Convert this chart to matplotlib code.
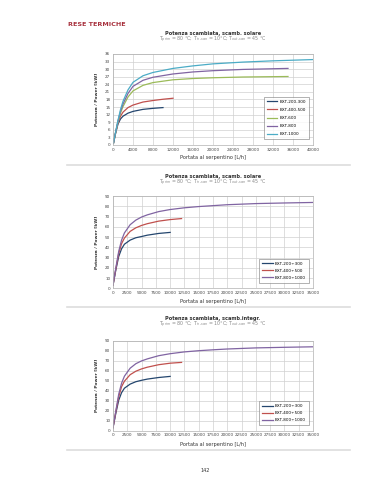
import matplotlib
matplotlib.use("Agg")
import matplotlib.pyplot as plt
from matplotlib.lines import Line2D

# -----------------------------
# data read from the catalogue page
# -----------------------------
# panel 1 - scamb. solare, 5 models
p1_labels = ["BXT-200-300", "BXT-400-500", "BXT-600", "BXT-800", "BXT-1000"]
p1_flow = [
    [100, 500, 1000, 1500, 2000, 3000, 4000, 6000, 8000, 10000],
    [100, 500, 1000, 1500, 2000, 3000, 4000, 6000, 8000, 10000, 12000],
    [100, 500, 1000, 1500, 2000, 3000, 4000, 6000, 8000, 12000, 16000, 20000, 26000, 35000],
    [100, 500, 1000, 1500, 2000, 3000, 4000, 6000, 8000, 12000, 16000, 20000, 26000, 35000],
    [100, 500, 1000, 1500, 2000, 3000, 4000, 6000, 8000, 12000, 16000, 20000, 26000, 32000, 40000],
]
p1_power = [
    [0.8, 4.5, 8.3, 10.3, 11.4, 12.6, 13.3, 14.1, 14.5, 14.8],
    [0.8, 4.6, 8.8, 11.4, 13.0, 14.8, 15.8, 17.0, 17.6, 18.1, 18.5],
    [0.8, 4.7, 9.2, 12.6, 15.2, 19.0, 21.4, 23.6, 24.7, 25.8, 26.3, 26.6, 26.9, 27.1],
    [0.8, 4.8, 9.5, 13.3, 16.2, 20.4, 23.2, 25.6, 26.8, 28.1, 28.9, 29.4, 29.9, 30.3],
    [0.8, 4.9, 9.8, 14.0, 17.3, 21.8, 24.8, 27.4, 28.7, 30.3, 31.3, 32.1, 32.8, 33.3, 33.8],
]

# panels 2 and 3 - 3 models
p23_labels = ["BXT-200÷300", "BXT-400÷500", "BXT-800÷1000"]
p2_flow = [
    [0, 500, 1000, 1500, 2000, 3000, 4000, 5000, 6000, 8000, 10000],
    [0, 500, 1000, 1500, 2000, 3000, 4000, 5000, 6000, 8000, 10000, 12000],
    [0, 500, 1000, 1500, 2000, 3000, 4000, 5000, 6000, 8000, 10000, 12500, 15000,
     17500, 20000, 25000, 30000, 35000],
]
p2_power = [
    [3, 18, 31, 38.5, 43, 47, 49.3, 50.5, 51.8, 53.5, 54.5],
    [3, 19, 34, 43.5, 49, 55.5, 59, 61.3, 63, 65.5, 67, 68],
    [3, 20, 36, 47, 54, 62, 66.5, 69.5, 71.6, 74.8, 76.8, 78.5, 79.7, 80.6, 81.5, 82.6, 83.2, 83.7],
]
p3_flow = p2_flow
p3_power = [
    [3, 17.5, 30.5, 38, 42.5, 46.6, 49, 50.4, 51.6, 53.2, 54.3],
    [3, 19, 34, 44, 49.5, 56, 59.5, 61.8, 63.5, 66, 67.5, 68.3],
    [3, 20, 36.5, 47.5, 54.5, 62.5, 67, 69.8, 71.8, 75, 77, 78.8, 80, 80.9, 81.7, 82.8, 83.4, 83.9],
]

colors5 = ["#24466e", "#c0504d", "#9bbb59", "#8064a2", "#4bacc6"]
colors3 = ["#24466e", "#c0504d", "#8064a2"]

W, H = 374, 480
fig = plt.figure(figsize=(W / 100, H / 100), dpi=100)


def box(x0, y0, x1, y1):
    return [x0 / W, 1 - y1 / H, (x1 - x0) / W, (y1 - y0) / H]


def panel(rect, flows, powers, labels, colors, xmax, xstep, ymax, ystep,
          title, title_y, xlabel_y, spacing):
    ax = fig.add_axes(rect)
    for fl, pw, lab, c in zip(flows, powers, labels, colors):
        ax.plot(fl, pw, color=c, lw=0.9, label=lab)
    ax.set_xlim(0, xmax)
    ax.set_ylim(0, ymax)
    ax.set_xticks(range(0, xmax + 1, xstep))
    ax.set_yticks(range(0, ymax + 1, ystep))
    ax.grid(True, color="#d0d0d0", lw=0.5)
    ax.set_axisbelow(True)
    ax.tick_params(labelsize=3, length=0, pad=2, colors="#444444")
    for s in ax.spines.values():
        s.set_color("#b0b0b0")
        s.set_linewidth(0.5)
    ax.set_ylabel("Potenza / Power [kW]", fontsize=3.2, fontweight="bold",
                  color="#333333", labelpad=4)
    fig.text(213 / W, 1 - xlabel_y / H, "Portata al serpentino [L/h]",
             fontsize=3.6, ha="center", va="center", color="#333333")
    fig.text(213 / W, 1 - title_y / H, title, fontsize=3.6, ha="center",
             va="center", color="#333333", fontweight="bold")
    fig.text(213 / W, 1 - (title_y + 6.5) / H,
             "T$_{prim}$ = 80 °C; T$_{in,san}$ = 10°C; T$_{out,san}$ = 45 °C",
             fontsize=3.4, ha="center", va="center", color="#888888")
    leg = ax.legend(loc="lower right", bbox_to_anchor=(0.99, 0.04), fontsize=3,
                    frameon=True, fancybox=False, handlelength=2.6,
                    borderpad=0.7, labelspacing=spacing, handletextpad=0.5)
    leg.get_frame().set_edgecolor("#777777")
    leg.get_frame().set_linewidth(0.5)
    return ax


panel(box(113, 54, 313, 145), p1_flow, p1_power, p1_labels, colors5,
      40000, 4000, 36, 3, "Potenza scambiata, scamb. solare", 33, 158, 1.0)
panel(box(113, 196, 313, 288.3), p2_flow, p2_power, p23_labels, colors3,
      35000, 2500, 90, 10, "Potenza scambiata, scamb. solare", 176.5, 302, 0.7)
panel(box(113, 340.7, 313, 430.7), p3_flow, p3_power, p23_labels, colors3,
      35000, 2500, 90, 10, "Potenza scambiata, scamb.integr.", 318.5, 444.5, 0.7)

# page decorations
fig.text(68 / W, 1 - 25 / H, "RESE TERMICHE", fontsize=4.6, fontweight="bold",
         color="#a8323e", va="center", ha="left")
for yy in [164.5, 307, 450]:
    fig.add_artist(Line2D([67 / W, 350 / W], [1 - yy / H, 1 - yy / H],
                          color="#dddddd", lw=1.2))
fig.text(205 / W, 1 - 470 / H, "142", fontsize=3.6, ha="center", va="center",
         color="#333333")

fig.savefig("out.png", dpi=100)
